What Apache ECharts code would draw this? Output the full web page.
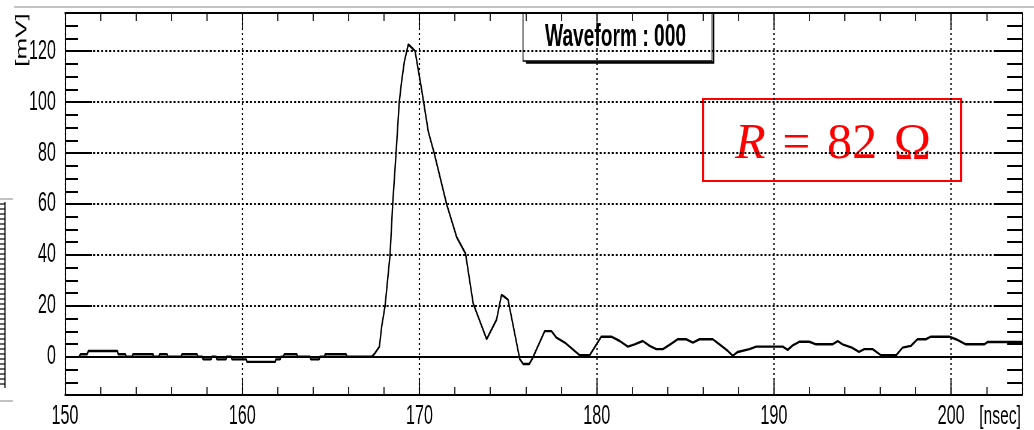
<!DOCTYPE html>
<html>
<head>
<meta charset="utf-8">
<style>
  html, body { margin: 0; padding: 0; background: #fff; overflow: hidden; }
  #wrap { width: 1034px; height: 430px; overflow: hidden; }
  #main { height: 430px; transform-origin: 0 0; }
</style>
<script src="https://cdn.jsdelivr.net/npm/echarts/dist/echarts.min.js"></script>
</head>
<body>
<div id="wrap"><div id="main"></div></div>
<script>
// waveform
const timeNs = [
  150.8, 150.87, 151.25, 151.32, 152.96, 153.0, 153.41, 153.45, 153.79, 153.83,
  154.97, 155.0, 155.3, 155.34, 155.76, 155.8, 156.56, 156.6, 157.45, 157.5,
  157.75, 157.79, 158.24, 158.28, 158.53, 158.57, 159.08, 159.12, 159.38, 159.42,
  160.23, 160.27, 161.86, 161.9, 162.14, 162.18, 162.33, 162.37, 163.08, 163.12,
  163.83, 163.87, 164.34, 164.38, 164.64, 164.68, 165.86, 165.9, 167.31,
  167.5, 167.74, 167.87, 168.06, 168.34, 168.49, 168.68, 168.86, 168.99, 169.15,
  169.37, 169.56, 169.75, 170.12, 170.5, 170.83, 171.53, 172.1, 172.6, 173.03,
  173.79, 174.35, 174.63, 174.8, 175.0, 175.66, 175.85, 176.2, 176.4, 177.07,
  177.45, 177.73, 178.2, 179.04, 179.6, 180.26, 180.83, 181.3, 181.76, 182.14,
  182.6, 182.99, 183.36, 183.74, 184.3, 184.58, 185.05, 185.43, 185.8, 186.55,
  186.93, 187.4, 187.68, 187.96, 188.62, 189.0, 190.5, 190.78, 191.06, 191.43,
  192.0, 192.38, 193.3, 193.6, 193.87, 194.4, 194.8, 195.1, 195.57, 196.04,
  196.9, 197.26, 197.73, 198.1, 198.57, 198.86, 199.89, 200.27, 200.83, 201.87,
  202.05, 204.0
];
const voltageMv = [
  0, 1, 1, 2.3, 2.3, 1, 1, 0, 0, 1,
  1, 0, 0, 1, 1, 0, 0, 1, 1, 0,
  0, -1, -1, 0, 0, -1, -1, 0, 0, -1,
  -1, -2, -2, -1, -1, 0, 0, 1, 1, 0,
  0, -1, -1, 0, 0, 1, 1, 0, 0,
  1.5, 4, 12, 20, 40, 60, 80, 100, 108, 116,
  122.7, 121.4, 120.1, 105, 88.4, 80, 60, 47, 40.5, 21,
  6.9, 14.6, 24.3, 23.5, 22.4, -0.9, -2.8, -2.8, -0.3, 10.1,
  10.1, 7.5, 5.6, 0.6, 0.6, 7.9, 7.9, 6.2, 4, 4.9,
  6.2, 4.3, 3, 3, 5.6, 6.9, 6.9, 5.6, 6.9, 6.9,
  4.9, 2.3, 0.4, 1.9, 3, 4, 4, 2.7, 4.5, 5.9,
  5.9, 4.9, 4.9, 6.2, 4.9, 3.6, 1.9, 3, 3, 0.6,
  0.6, 3.6, 4.3, 6.9, 6.9, 7.9, 7.9, 6.9, 4.9, 4.9,
  5.8, 5.8
];
const xRange = [150, 204];
const xMajor = 10, xMinor = 2;
const yRange = [-15, 135];
const yMajor = 20, yMinor = 5;
const titleText = 'Waveform : 000';
const xUnit = '[nsec]';
const yUnit = '[mV]';

// the ROOT picture is squeezed sideways, so draw wide and squeeze with css
const SQ = 0.6;
const W = Math.round(1034 / SQ);
const sx = v => v / SQ;
const FONT = "'Liberation Sans', Arial, sans-serif";

const dom = document.getElementById('main');
dom.style.width = W + 'px';
dom.style.transform = 'scaleX(' + SQ + ')';

function xAxisCfg(pos, major) {
  return {
    type: 'value', position: pos, min: xRange[0], max: xRange[1],
    interval: major ? xMajor : xMinor,
    axisLine: { show: major, onZero: false, lineStyle: { color: '#000', width: 2 } },
    axisTick: { inside: true, length: major ? 17 : 8, lineStyle: { color: '#000', width: 1.7 } },
    axisLabel: (major && pos === 'bottom') ? {
      margin: 8, fontSize: 27, fontFamily: FONT, color: '#000',
      formatter: v => (v % xMajor === 0 ? String(v) : '')
    } : { show: false },
    splitLine: (major && pos === 'bottom') ? {
      show: true, lineStyle: { color: '#000', width: 2.2, type: [2, 3] }
    } : { show: false }
  };
}

function yAxisCfg(pos, major) {
  const cfg = {
    type: 'value', position: pos, min: yRange[0], max: yRange[1],
    axisLine: { show: major, onZero: false, lineStyle: { color: '#000', width: 2 } },
    axisTick: {
      inside: true,
      length: major ? sx(pos === 'left' ? 27 : 28) : sx(pos === 'left' ? 13 : 15),
      lineStyle: { color: '#000', width: 2 }
    },
    axisLabel: (major && pos === 'left') ? {
      margin: sx(9), fontSize: 27, fontFamily: FONT, color: '#000',
      formatter: v => (v % yMajor === 0 ? String(v) : '')
    } : { show: false },
    splitLine: (major && pos === 'left') ? {
      show: true, lineStyle: { color: '#000', width: 1.8, type: [3.3, 3.4] }
    } : { show: false }
  };
  if (major) cfg.splitNumber = Math.round((yRange[1] - yRange[0]) / yMajor);
  else cfg.interval = yMinor;
  return cfg;
}

// clipped edge of the neighbouring plot on the far left
const ladder = [];
for (let y = 204; y <= 386; y += 5) {
  ladder.push({ type: 'line', shape: { x1: 0, y1: y, x2: sx(5), y2: y },
    style: { stroke: '#000', lineWidth: 1.2 }, silent: true });
}

const chart = echarts.init(dom);
chart.setOption({
  animation: false,
  backgroundColor: '#fff',
  grid: { left: sx(65), right: W - sx(1022), top: 13, bottom: 30 },
  xAxis: [
    xAxisCfg('bottom', true), xAxisCfg('bottom', false),
    xAxisCfg('top', true), xAxisCfg('top', false)
  ],
  yAxis: [
    yAxisCfg('left', true), yAxisCfg('left', false),
    yAxisCfg('right', true), yAxisCfg('right', false)
  ],
  series: [{
    type: 'line',
    xAxisIndex: 0, yAxisIndex: 0,
    data: timeNs.map((t, i) => [t, voltageMv[i]]),
    showSymbol: false,
    lineStyle: { color: '#000', width: 2.4 },
    markLine: {
      silent: true, symbol: 'none', label: { show: false },
      lineStyle: { color: '#000', width: 2, type: 'solid' },
      data: [{ yAxis: 0 }]
    },
    z: 5
  }],
  graphic: [
    // top rule of the slide
    { type: 'line', shape: { x1: sx(14), y1: 7, x2: W, y2: 7 },
      style: { stroke: '#b0b0b0', lineWidth: 1.5 }, silent: true },
    { type: 'line', shape: { x1: 0, y1: 199, x2: sx(13), y2: 199 },
      style: { stroke: '#b0b0b0', lineWidth: 1.5 }, silent: true },
    { type: 'line', shape: { x1: 0, y1: 401, x2: sx(13), y2: 401 },
      style: { stroke: '#b0b0b0', lineWidth: 1.5 }, silent: true },
    { type: 'line', shape: { x1: sx(5), y1: 202, x2: sx(5), y2: 388 },
      style: { stroke: '#000', lineWidth: 2 }, silent: true },
    ...ladder,
    // title pave with shadow
    { type: 'rect', shape: { x: sx(523), y: 13, width: sx(189), height: 48 },
      style: { fill: 'none', stroke: '#000', lineWidth: 1.5 }, z: 10 },
    { type: 'polyline', shape: { points: [[sx(526), 62.5], [sx(713.5), 62.5], [sx(713.5), 14]] },
      style: { fill: 'none', stroke: '#000', lineWidth: 2.5 }, z: 10 },
    { type: 'text', x: sx(615.5), y: 37, z: 11,
      style: { text: titleText, fill: '#000', font: 'bold 32px ' + FONT,
        textAlign: 'center', textVerticalAlign: 'middle' } },
    // axis units
    { type: 'text', x: sx(22), y: 40, rotation: Math.PI / 2, z: 11,
      style: { text: yUnit, fill: '#000', font: '26px ' + FONT,
        textAlign: 'center', textVerticalAlign: 'middle' } },
    { type: 'text', x: sx(1000), y: 417, z: 11,
      style: { text: xUnit, fill: '#000', font: '26px ' + FONT,
        textAlign: 'center', textVerticalAlign: 'middle' } },
    // red annotation box, counter-scaled so it keeps normal proportions
    { type: 'group', x: sx(703), y: 99, scaleX: 1 / SQ, z: 20, children: [
      { type: 'rect', shape: { x: 0, y: 0, width: 258, height: 82 },
        style: { fill: '#fff', stroke: '#f00', lineWidth: 2 } },
      { type: 'text', x: 130, y: 46,
        style: {
          text: '{i|R}\u2004=\u200482\u2004Ω',
          fill: '#f00', font: '50px "Liberation Serif", serif',
          textAlign: 'center', textVerticalAlign: 'middle',
          rich: { i: { fontStyle: 'italic', fontSize: 50, fontFamily: '"Liberation Serif", serif', fill: '#f00' } }
        } }
    ] }
  ]
});
</script>
</body>
</html>
